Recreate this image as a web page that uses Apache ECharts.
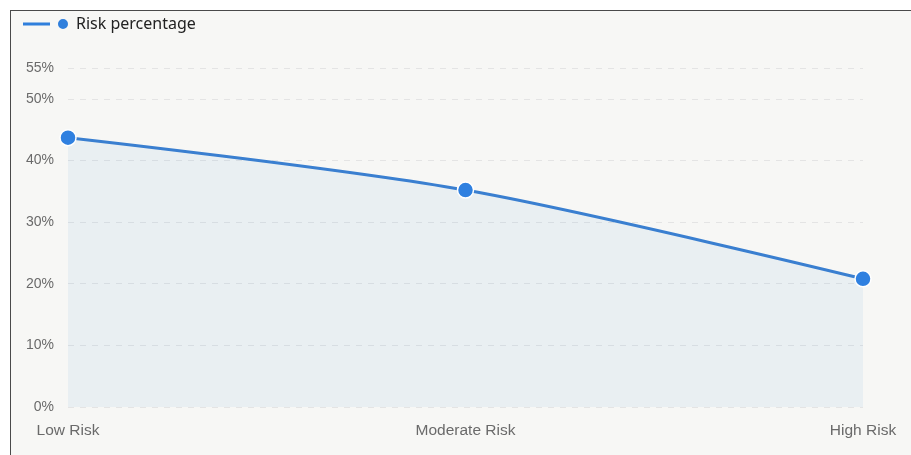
<!DOCTYPE html>
<html>
<head>
<meta charset="utf-8">
<script src="https://cdn.jsdelivr.net/npm/echarts@6/dist/echarts.min.js"></script>
<style>
  html, body { margin: 0; padding: 0; background: #ffffff; overflow: hidden; }
  #frame {
    position: absolute; left: 10px; top: 10px;
    width: 901px; height: 445px;
    border-left: 1px solid #4a4a4a; border-top: 1px solid #4a4a4a;
    background: #f7f7f5;
  }
  #chart { width: 901px; height: 445px; }
</style>
</head>
<body>
<div id="frame"><div id="chart"></div></div>
<script>
// Risk share per level
const categories = ['Low Risk', 'Moderate Risk', 'High Risk'];
const riskPercentage = [43.7, 35.2, 20.8];
const seriesName = 'Risk percentage';

// legend key: short bar followed by a dot
const legendIcon = 'path://M0,3.6 L27,3.6 L27,6.4 L0,6.4 Z M35,5 A5,5 0 1,1 45,5 A5,5 0 1,1 35,5 Z';

const chart = echarts.init(document.getElementById('chart'));
chart.setOption({
  backgroundColor: 'transparent',
  animation: false,
  legend: {
    left: 7, top: 0,
    itemWidth: 45, itemHeight: 10, itemGap: 8,
    icon: legendIcon,
    itemStyle: { color: '#2f7fdc', borderWidth: 0 },
    textStyle: { fontFamily: 'Noto Sans', fontSize: 16, color: '#222', padding: [0, 0, 0, 3] },
    data: [seriesName]
  },
  grid: { left: 57, right: 49, top: 57, bottom: 49, containLabel: false },
  xAxis: {
    type: 'category',
    data: categories,
    boundaryGap: false,
    axisLine: { show: false },
    axisTick: { show: false },
    axisLabel: {
      margin: 16,
      fontFamily: 'Liberation Sans', fontSize: 15.5, color: '#6a6a6a'
    }
  },
  yAxis: {
    type: 'value',
    min: 0, max: 55, interval: 10,
    axisLine: { show: false },
    axisTick: { show: false },
    axisLabel: {
      margin: 14, showMaxLabel: true,
      fontFamily: 'Liberation Sans', fontSize: 14, color: '#6a6a6a',
      formatter: '{value}%'
    },
    splitLine: { lineStyle: { type: [6, 6], color: '#e4e4e4' } }
  },
  series: [{
    name: seriesName,
    type: 'line',
    data: riskPercentage,
    smooth: 0.3,
    symbol: 'circle',
    symbolSize: 16,
    itemStyle: { color: '#2f80e0', borderColor: '#ffffff', borderWidth: 1.5 },
    lineStyle: { color: '#3a7fd0', width: 3 },
    areaStyle: { color: 'rgba(60,135,210,0.1)' }
  }]
});
</script>
</body>
</html>
